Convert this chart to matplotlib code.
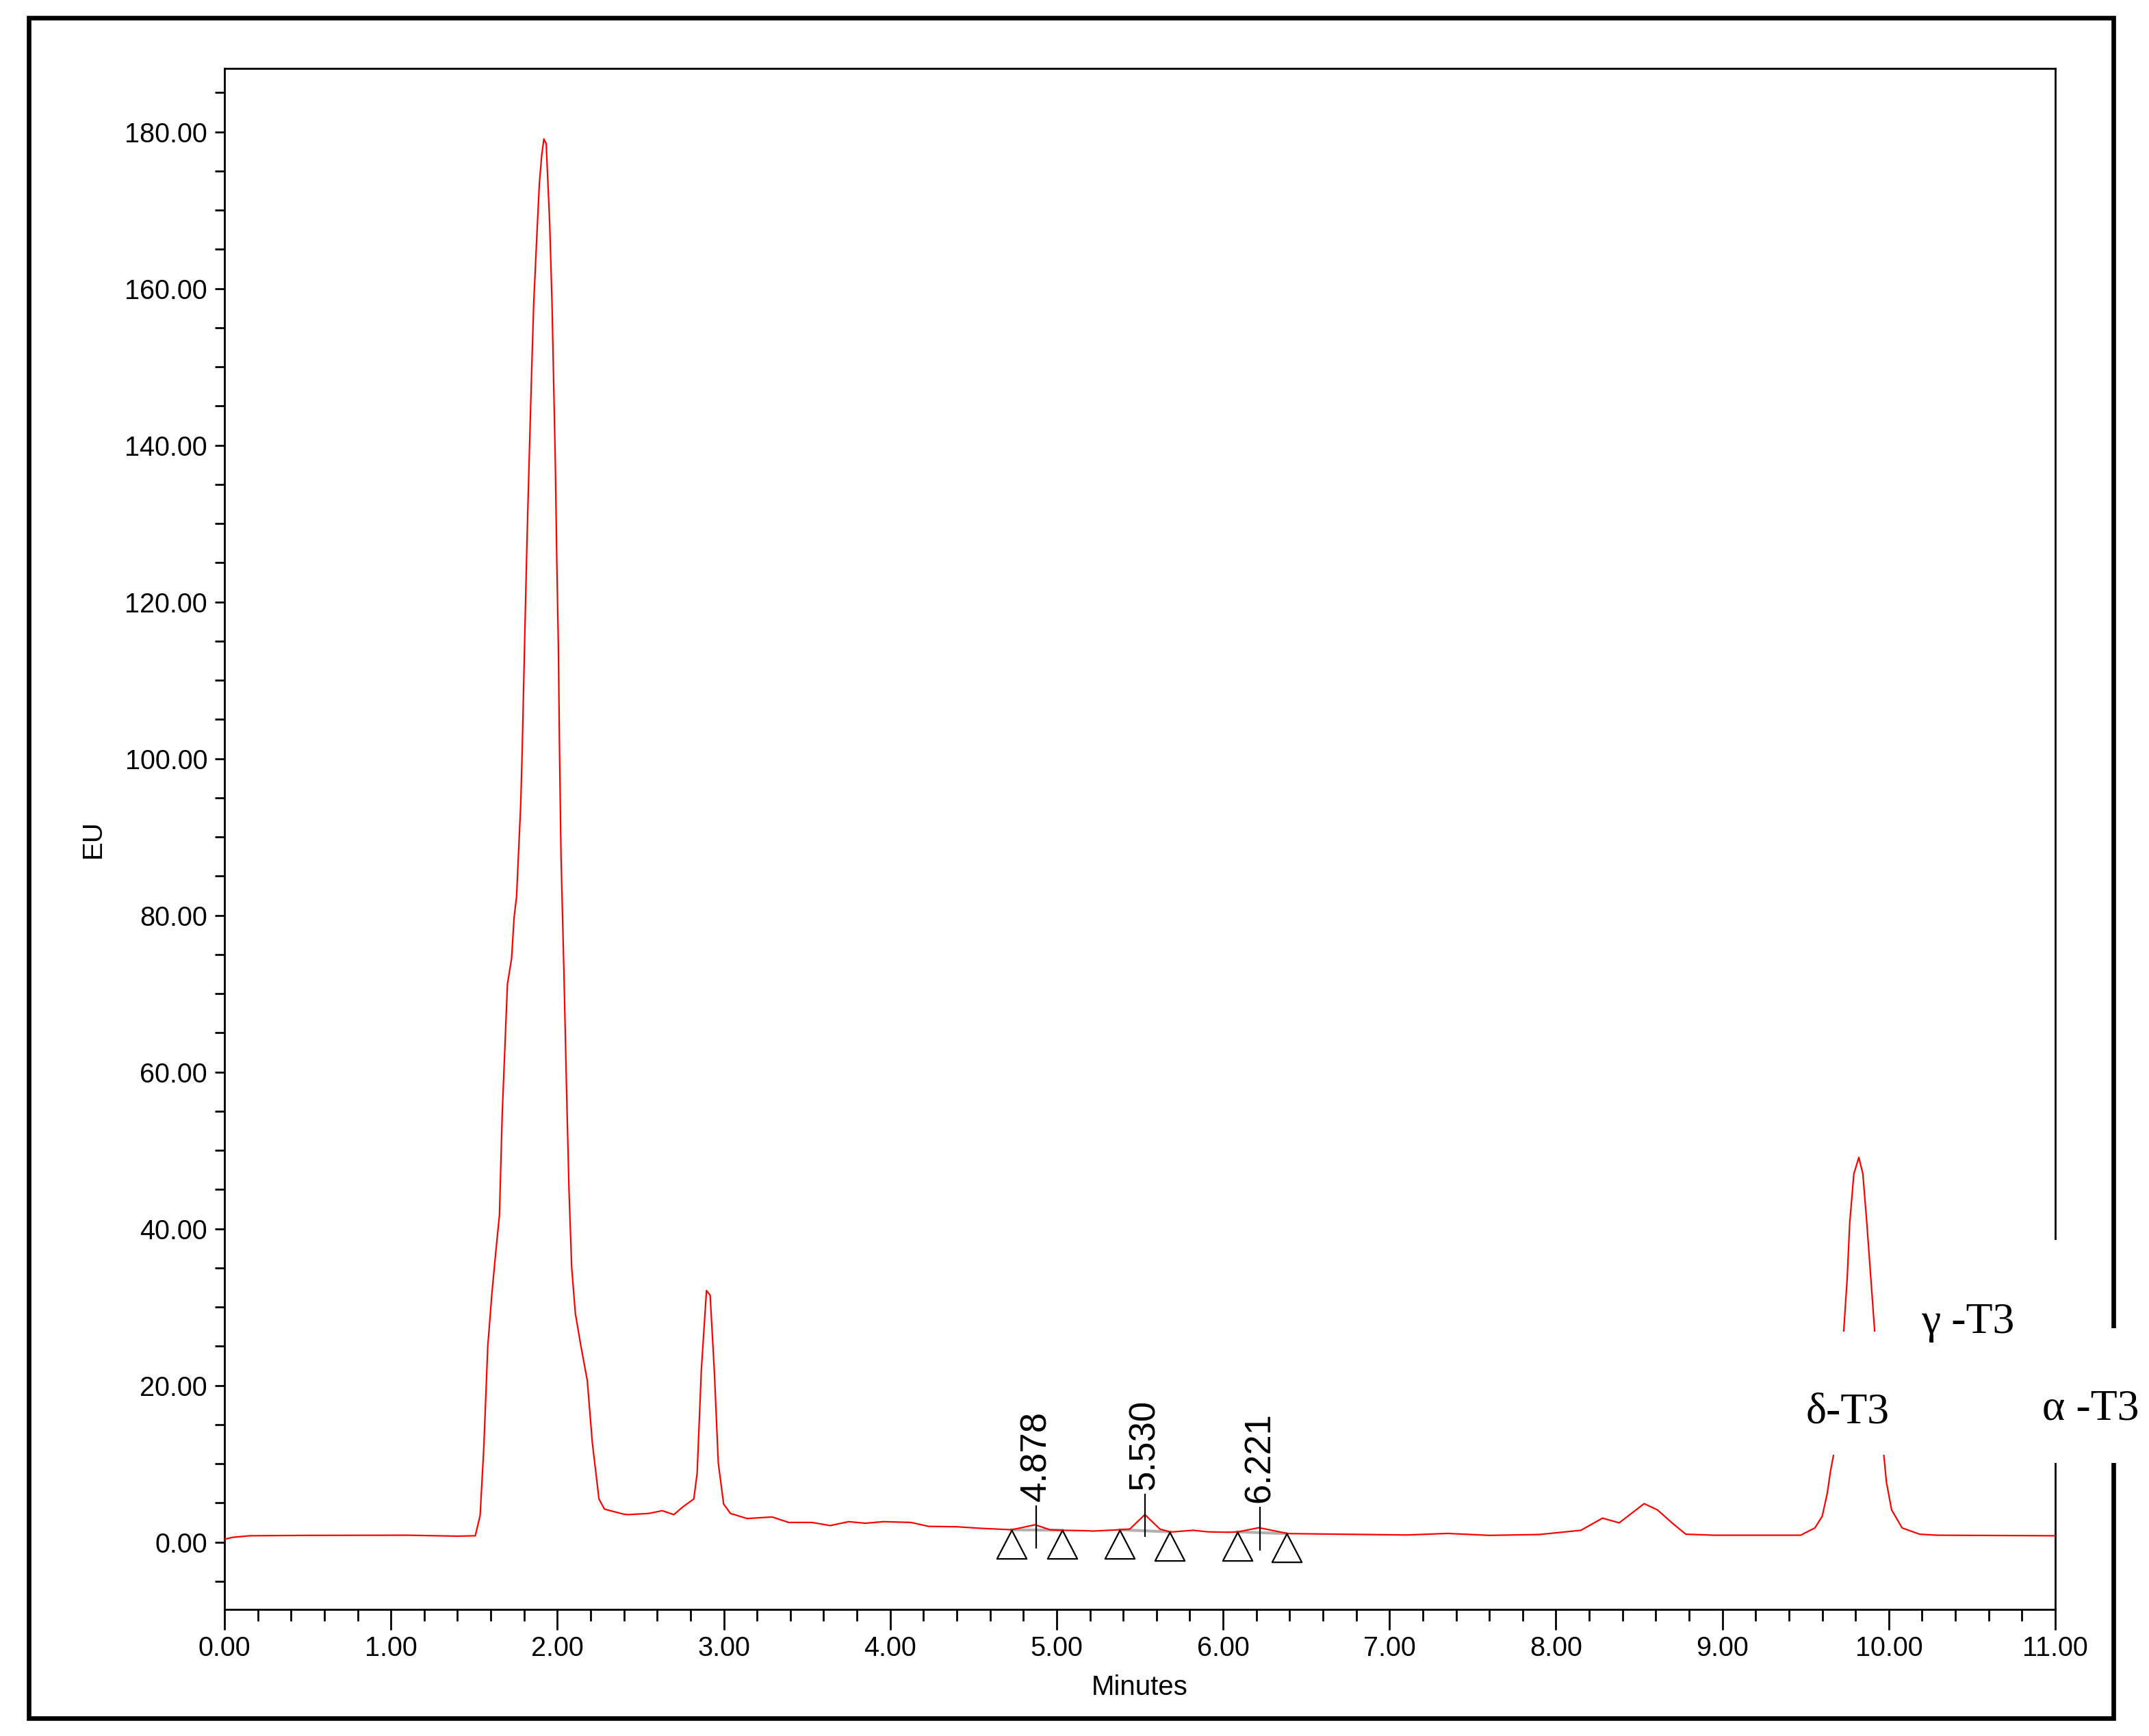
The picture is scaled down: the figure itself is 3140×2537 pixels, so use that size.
import matplotlib
matplotlib.use("Agg")
import matplotlib.pyplot as plt
from matplotlib.patches import Rectangle
from matplotlib.path import Path
from matplotlib import font_manager as fm
from matplotlib.ticker import MultipleLocator, FormatStrFormatter

# ---------------- data ----------------
time_min = [0.00, 0.05, 0.15, 0.50, 1.10, 1.40, 1.507, 1.536, 1.558, 1.582,
            1.607, 1.630, 1.652, 1.669, 1.700, 1.725, 1.740, 1.755, 1.780, 1.789,
            1.803, 1.817, 1.830, 1.844, 1.858, 1.878, 1.892, 1.906, 1.919, 1.933,
            1.954, 1.968, 1.978, 1.988, 1.997, 2.006, 2.013, 2.022, 2.039, 2.055,
            2.070, 2.086, 2.108, 2.140, 2.180, 2.210, 2.250, 2.283, 2.400, 2.425,
            2.550, 2.630, 2.700, 2.755, 2.820, 2.840, 2.865, 2.896, 2.918, 2.943,
            2.967, 2.999, 3.040, 3.140, 3.290, 3.390, 3.530, 3.640, 3.750, 3.850,
            3.960, 4.125, 4.230, 4.400, 4.545, 4.730, 4.870, 4.960, 5.035, 5.170,
            5.220, 5.380, 5.440, 5.530, 5.620, 5.680, 5.700, 5.820, 5.910, 6.030,
            6.090, 6.215, 6.390, 6.870, 7.100, 7.350, 7.600, 7.900, 8.150, 8.280,
            8.380, 8.530, 8.610, 8.700, 8.780, 8.950, 9.470, 9.556, 9.600, 9.630,
            9.650, 9.668, 9.700, 9.729, 9.750, 9.765, 9.790, 9.820, 9.844, 9.868,
            9.892, 9.915, 9.945, 9.970, 9.986, 10.017, 10.080, 10.185, 10.290, 11.000]
signal_eu = [0.35, 0.60, 0.80, 0.85, 0.87, 0.75, 0.80, 3.4, 12.0, 25.0,
             31.8, 37.0, 41.7, 54.8, 71.2, 74.5, 79.7, 82.4, 94.2, 101.2,
             114.5, 127.3, 137.6, 148.3, 158.1, 167.3, 173.4, 177.0, 179.1, 178.5,
             168.3, 158.1, 147.8, 137.6, 124.8, 114.5, 101.2, 87.7, 73.2, 58.0,
             44.9, 35.1, 29.2, 25.2, 20.6, 12.7, 5.5, 4.2, 3.55, 3.5,
             3.65, 4.0, 3.5, 4.5, 5.5, 8.8, 21.9, 32.1, 31.5, 21.9,
             10.1, 4.85, 3.65, 3.0, 3.2, 2.5, 2.5, 2.1, 2.6, 2.4,
             2.6, 2.5, 2.0, 1.95, 1.75, 1.57, 2.2, 1.57, 1.5, 1.45,
             1.4, 1.57, 1.66, 3.5, 1.66, 1.3, 1.3, 1.5, 1.3, 1.25,
             1.3, 1.83, 1.08, 0.96, 0.9, 1.1, 0.85, 0.96, 1.5, 3.05,
             2.45, 4.9, 4.1, 2.4, 1.0, 0.87, 0.87, 1.8, 3.3, 6.2,
             9.1, 11.1, 19.0, 26.9, 33.7, 40.7, 47.0, 49.1, 47.0, 40.7,
             33.7, 26.9, 19.0, 11.1, 7.6, 4.1, 1.8, 1.0, 0.87, 0.80]

# integrated peaks (retention time labels)
rt_values = [4.878, 5.530, 6.221]
rt_labels = ["4.878", "5.530", "6.221"]
rt_heights = [2.0, 3.5, 1.8]
# baseline start / end markers of integrated peaks
bl_start_t = [4.73, 5.38, 6.086]
bl_start_y = [1.57, 1.57, 1.30]
bl_end_t = [5.035, 5.68, 6.38]
bl_end_y = [1.50, 1.30, 1.08]

x_ticks = [0, 1, 2, 3, 4, 5, 6, 7, 8, 9, 10, 11]
y_ticks = [0, 20, 40, 60, 80, 100, 120, 140, 160, 180]

# compound labels: (text, x-left [min], baseline [EU])
comp_labels = ["δ-T3", "γ -T3", "α -T3"]
comp_x = [9.503, 10.193, 10.92]
comp_y = [15.2, 26.7, 15.6]
# white masks behind the pasted labels (x0, x1, y0, y1)
mask_x0 = [9.441, 10.119, 10.880]
mask_x1 = [10.058, 11.167, 11.556]
mask_y0 = [11.1, 22.6, 10.1]
mask_y1 = [26.9, 38.6, 27.3]

# ---------------- fonts ----------------
names = {f.name for f in fm.fontManager.ttflist}
if "Liberation Sans Narrow" in names:
    tick_family, tick_size = "Liberation Sans Narrow", 33
else:
    tick_family, tick_size = "Liberation Sans", 28.5
sans = "Liberation Sans"
serif = "Liberation Serif"

# ---------------- figure ----------------
W, H = 3140, 2537
fig = plt.figure(figsize=(W / 100, H / 100), dpi=100)
fig.patch.set_facecolor("white")

ax_l, ax_r, ax_t, ax_b = 328, 3003, 100, 2352
ax = fig.add_axes([ax_l / W, 1 - ax_b / H, (ax_r - ax_l) / W, (ax_b - ax_t) / H])

# outer frame
frame = Rectangle((42 / W, 1 - 2511 / H), (3088 - 42) / W, (2511 - 26) / H,
                  transform=fig.transFigure, fill=False, edgecolor="black",
                  linewidth=4.8, zorder=-1)
fig.add_artist(frame)

# trace
ax.plot(time_min, signal_eu, color="#ff0000", linewidth=1.6, zorder=3)

# integration baselines and markers
for t0, y0, t1, y1 in zip(bl_start_t, bl_start_y, bl_end_t, bl_end_y):
    ax.plot([t0, t1], [y0, y1], color="#b0b0b0", linewidth=3.0, zorder=2.5)

tri = Path([(0, 0), (-0.52, -1), (0.52, -1), (0, 0)],
           [Path.MOVETO, Path.LINETO, Path.LINETO, Path.CLOSEPOLY])
ax.plot(bl_start_t + bl_end_t, bl_start_y + bl_end_y, linestyle="none",
        marker=tri, markersize=60, markerfacecolor="none",
        markeredgecolor="black", markeredgewidth=1.6, zorder=4)

for rt, lab, h in zip(rt_values, rt_labels, rt_heights):
    ax.vlines(rt, h - 2.85, h + 2.7, color="black", linewidth=1.6, zorder=4)
    ax.annotate(lab, xy=(rt, h + 2.7), xytext=(0, 4), textcoords="offset points",
                rotation=90, ha="center", va="bottom", fontsize=38,
                family=sans, color="black", zorder=5)

# axes styling
ax.set_xlim(0, 11)
ax.set_ylim(-8.6, 188.1)
ax.set_xticks(x_ticks)
ax.set_yticks(y_ticks)
ax.xaxis.set_minor_locator(MultipleLocator(0.2))
ax.yaxis.set_minor_locator(MultipleLocator(5))
ax.xaxis.set_major_formatter(FormatStrFormatter("%.2f"))
ax.yaxis.set_major_formatter(FormatStrFormatter("%.2f"))
ax.tick_params(axis="x", which="major", direction="out", length=21.6, width=2,
               pad=5.5, labelsize=tick_size)
ax.tick_params(axis="x", which="minor", direction="out", length=12, width=2)
ax.tick_params(axis="y", which="both", direction="out", length=10, width=2,
               pad=8, labelsize=tick_size)
for lbl in ax.get_xticklabels() + ax.get_yticklabels():
    lbl.set_family(tick_family)
for sp in ax.spines.values():
    sp.set_linewidth(2)
    sp.set_color("black")

ax.set_xlabel("Minutes", fontsize=29, family=sans, va="center")
ax.set_ylabel("EU", fontsize=29, family=sans, va="center")
ax.xaxis.set_label_coords(0.5, -0.0506)
ax.yaxis.set_label_coords(-0.0718, 0.5)

# white masks and compound labels
for x0, x1, y0, y1 in zip(mask_x0, mask_x1, mask_y0, mask_y1):
    ax.add_patch(Rectangle((x0, y0), x1 - x0, y1 - y0, facecolor="white",
                           edgecolor="none", clip_on=False, zorder=6))
for txt, x, y in zip(comp_labels, comp_x, comp_y):
    ax.text(x, y, txt, fontsize=46, family=serif, ha="left", va="baseline",
            color="black", clip_on=False, zorder=7)

fig.savefig("out.png", dpi=100, facecolor="white")
